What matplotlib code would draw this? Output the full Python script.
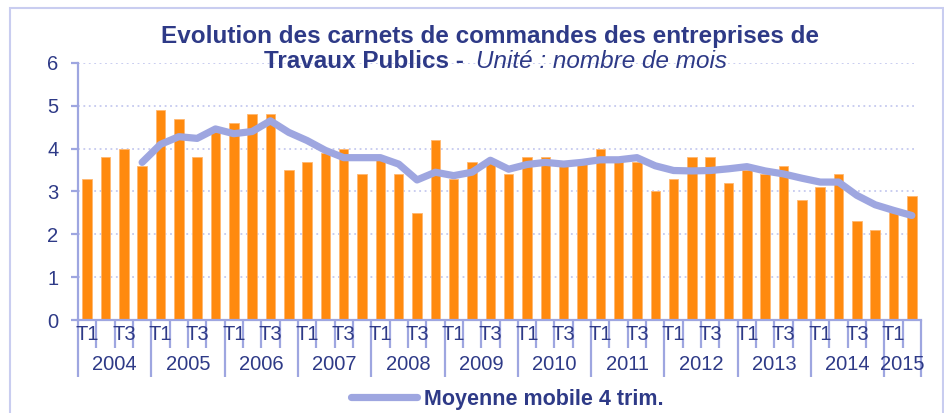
import numpy as np
import matplotlib.pyplot as plt
from matplotlib.lines import Line2D
from matplotlib.patches import Rectangle
import matplotlib.transforms as mtransforms

plt.rcParams['font.family'] = ['Liberation Sans', 'DejaVu Sans']

years = ['2004', '2005', '2006', '2007', '2008', '2009', '2010',
         '2011', '2012', '2013', '2014', '2015']
quarters = ['T1', 'T2', 'T3', 'T4']
n_quarters_2015 = 2

# carnets de commandes, in months (quarterly)
carnets = [3.3, 3.8, 4.0, 3.6,
           4.9, 4.7, 3.8, 4.4,
           4.6, 4.8, 4.8, 3.5,
           3.7, 3.9, 4.0, 3.4,
           3.8, 3.4, 2.5, 4.2,
           3.3, 3.7, 3.7, 3.4,
           3.8, 3.8, 3.6, 3.7,
           4.0, 3.7, 3.7, 3.0,
           3.3, 3.8, 3.8, 3.2,
           3.5, 3.4, 3.6, 2.8,
           3.1, 3.4, 2.3, 2.1,
           2.6, 2.9]

# 4-quarter moving average (starts at 2004 T4)
moy_mobile = [3.68, 4.1, 4.28, 4.24, 4.46, 4.35, 4.4, 4.65, 4.38,
              4.19, 3.96, 3.79, 3.79, 3.79, 3.64, 3.27, 3.45, 3.37,
              3.45, 3.73, 3.52, 3.63, 3.68, 3.64, 3.68, 3.74, 3.74,
              3.79, 3.6, 3.49, 3.48, 3.49, 3.53, 3.58, 3.48, 3.41,
              3.31, 3.22, 3.22, 2.91, 2.69, 2.56, 2.44]

navy = '#2e3a87'
lav = '#9ea6e0'
orange = '#ff8a0e'

fig = plt.figure(figsize=(9.44, 4.13), dpi=100)
fig.patches.append(Rectangle((10 / 944, -0.05), 933 / 944, 1 - 8 / 413 + 0.05,
                             transform=fig.transFigure, fill=False,
                             edgecolor='#c9cdf0', lw=1.5))

ax = fig.add_axes([78 / 944, 1 - 320 / 413, 843 / 944, 257 / 413])

x = np.arange(len(carnets))
ax.bar(x, carnets, width=0.52, color=orange, edgecolor='#ffb870', lw=0.6, zorder=2)
xm = np.arange(3, 3 + len(moy_mobile))
ax.plot(xm, moy_mobile, color=lav, lw=5.2, solid_capstyle='round',
        solid_joinstyle='round', zorder=3)

ax.set_xlim(-0.5, len(carnets) - 0.5)
ax.set_ylim(0, 6)
ax.set_yticks(range(7))
for v in range(1, 7):
    ax.axhline(v, xmin=0, xmax=0.995, color='#c5c9ef', lw=1.3,
               linestyle=(0, (1, 2)), zorder=1)

for s in ['top', 'right']:
    ax.spines[s].set_visible(False)
for s in ['left', 'bottom']:
    ax.spines[s].set_color(lav)
    ax.spines[s].set_linewidth(1.6)

ax.tick_params(axis='y', colors=lav, length=5, width=1.6, pad=9,
               labelcolor=navy, labelsize=14.5)

# x ticks: quarter boundaries short, year boundaries long
bounds = np.arange(0, len(carnets) + 1) - 0.5
year_bounds = [b for i, b in enumerate(bounds) if i % 4 == 0 or i == len(carnets)]
q_bounds = [b for b in bounds if b not in year_bounds]
ax.set_xticks(year_bounds)
ax.set_xticks(q_bounds, minor=True)
ax.set_xticklabels([])
ax.tick_params(axis='x', which='major', length=41, width=1.6, colors=lav)
ax.tick_params(axis='x', which='minor', length=20, width=1.6, colors=lav)

trans = mtransforms.blended_transform_factory(ax.transData, fig.transFigure)
for i in range(len(carnets)):
    q = quarters[i % 4]
    if q in ('T1', 'T3'):
        ax.text(i, 1 - 335 / 413, q, transform=trans, ha='center', va='center',
                fontsize=14.5, color=navy)
for k, yr in enumerate(years):
    nq = n_quarters_2015 if yr == '2015' else 4
    ax.text(4 * k + (nq - 1) / 2, 1 - 365 / 413, yr, transform=trans,
            ha='center', va='center', fontsize=14.5, color=navy)

# title
fig.text(490 / 944, 1 - 36 / 413, 'Evolution des carnets de commandes des entreprises de',
         ha='center', va='center', fontsize=17.5, fontweight='bold', color=navy)
fig.text(471 / 944, 1 - 62 / 413, 'Travaux Publics - ', ha='right', va='center',
         fontsize=17.5, fontweight='bold', color=navy)
fig.text(476 / 944, 1 - 62 / 413, 'Unité : nombre de mois', ha='left', va='center',
         fontsize=17.5, fontstyle='italic', color=navy)

handle = Line2D([], [], color=lav, lw=5.2, solid_capstyle='round')
fig.legend([handle], ['Moyenne mobile 4 trim.'], loc='center',
           bbox_to_anchor=(507 / 944, 1 - 399 / 413), frameon=False,
           handlelength=3.1, handletextpad=0.3,
           prop={'size': 15.5, 'weight': 'bold'}, labelcolor=navy)

fig.savefig('out.png', dpi=100)
